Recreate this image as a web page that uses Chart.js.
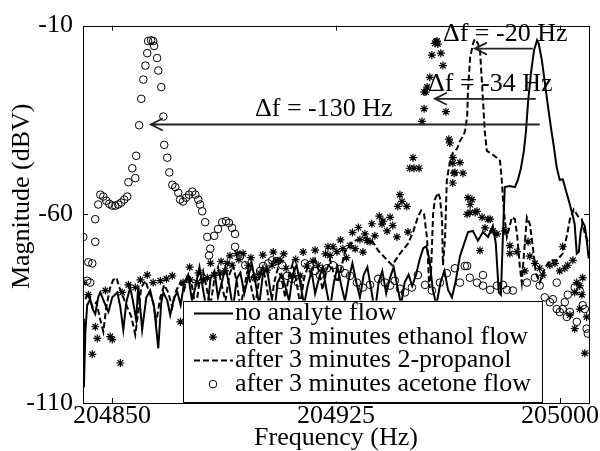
<!DOCTYPE html>
<html>
<head>
<meta charset="utf-8">
<script src="https://cdn.jsdelivr.net/npm/chart.js@4.4.0/dist/chart.umd.min.js"></script>
<style>
  html, body { margin: 0; padding: 0; background: #fff; }
  canvas { display: block; }
</style>
</head>
<body>
<canvas id="chart" width="600" height="451"></canvas>
<script>
// Ticks of the axes
const freqTicks = [204850, 204925, 205000];
const magTicks = [-110, -60, -10];

const seriesNames = ['no analyte flow', 'after 3 minutes ethanol flow',
                     'after 3 minutes 2-propanol', 'after 3 minutes acetone flow'];

// [frequency (Hz), magnitude (dBV)]
const noFlow = [
  [204840.4,-87.7],[204840.6,-105.9],[204841.1,-91.1],[204841.7,-84.1],[204842.7,-82.5],[204843.7,-85.4],
  [204844.4,-86.4],[204845.4,-82.0],[204846.1,-80.7],[204847.4,-83.3],[204848.8,-85.9],[204850.1,-82.0],
  [204851.8,-80.7],[204852.8,-84.6],[204853.8,-90.6],[204854.8,-83.3],[204856.1,-79.4],[204857.1,-83.3],
  [204858.1,-88.0],[204858.8,-78.9],[204860.1,-90.6],[204861.5,-82.0],[204862.8,-80.2],[204864.1,-84.6],
  [204865.5,-95.5],[204866.5,-83.3],[204867.2,-80.7],[204868.5,-82.8],[204869.5,-86.7],[204870.8,-82.0],
  [204871.9,-80.7],[204873.0,-84],[204874.2,-78],[204875.5,-76],[204876.8,-83],[204878.0,-79],
  [204879.3,-74],[204880.5,-80],[204881.8,-86],[204883.0,-77],[204884.3,-75],[204885.5,-82],
  [204886.8,-78],[204888.0,-74],[204889.3,-79],[204890.5,-85],[204891.8,-77],[204893.0,-75.5],
  [204894.3,-81],[204895.5,-77],[204896.8,-73],[204898.0,-78],[204899.3,-84],[204900.5,-76],
  [204901.8,-74],[204903.0,-80],[204904.3,-86],[204905.5,-78],[204906.8,-76],[204908.0,-79],
  [204909.3,-83],[204910.5,-76],[204911.8,-73.5],[204913.0,-78],[204914.3,-84],[204915.5,-79],
  [204916.8,-75],[204918.0,-81],[204919.3,-77],[204920.5,-74],[204921.8,-80],[204923.0,-85],
  [204924.3,-78],[204925.5,-74],[204926.8,-79],[204928.0,-83],[204929.3,-77],[204930.5,-73],
  [204931.8,-78],[204933.0,-82],[204934.3,-76],[204935.5,-74],[204936.8,-80],[204938.0,-86],
  [204939.3,-78],[204940.5,-75],[204941.8,-81],[204943.0,-77],[204944.3,-74],[204945.5,-79],
  [204946.8,-84],[204948.0,-78],[204949.3,-76],[204950.5,-79],[204951.8,-76],[204953.0,-72],
  [204954.2,-69],[204955.2,-68.5],[204956.3,-72],[204957.4,-80],[204958.6,-84],[204960.0,-78],
  [204961.3,-75],[204962.5,-80],[204963.8,-82],[204965.0,-78],[204966.5,-71.1],[204969.2,-64.7],
  [204970.8,-64.4],[204972.5,-67.0],[204974.2,-64.7],[204975.9,-66.0],[204977.5,-63.1],[204978.5,-67.8],
  [204979.5,-80.7],[204980.2,-81.3],[204980.9,-65.2],[204981.5,-52.8],[204983.2,-52.5],[204984.9,-52.8],
  [204985.9,-50.9],[204986.9,-47.8],[204987.9,-43.2],[204988.6,-38.0],[204989.3,-30.2],[204990.3,-22.4],
  [204991.3,-16.5],[204992.3,-13.9],[204992.9,-14.9],[204993.9,-19.1],[204994.9,-25.0],[204995.9,-31.0],
  [204996.9,-36.7],[204997.9,-41.9],[204998.9,-47.6],[204999.9,-50.9],[205000.9,-50.7],[205001.9,-53.5],
  [205003.3,-57.4],[205004.3,-60.5],[205004.9,-62.6],[205005.6,-70.4],[205006.3,-69.9],[205006.9,-64.7],
  [205007.6,-62.1],[205008.3,-63.1],[205008.9,-66.5],[205009.6,-71.7]
];

const ethanol = [
  [204840.4,-78.1],[204842.1,-81.3],[204843.4,-97.1],[204844.4,-89.8],[204845.1,-92.9],[204847.8,-80.2],
  [204849.4,-92.4],[204850.1,-93.2],[204852.8,-99.4],[204853.4,-80.7],[204855.5,-78.7],[204857.8,-79.4],
  [204859.5,-77.4],[204861.8,-76.1],[204863.8,-78.1],[204866.2,-77.6],[204868.2,-77.1],[204870.2,-76.3],
  [204872.9,-88.5],[204873.8,-78.1],[204876.2,-77.4],[204878.5,-78.1],[204880.5,-77.4],[204881.9,-76.8],
  [204884.2,-76.1],[204886.2,-75.6],[204887.9,-75.0],[204888.6,-73.0],[204890.2,-73.5],[204891.9,-70.4],
  [204893.9,-70.4],[204895.6,-73.5],[204897.9,-76.8],[204899.6,-75.6],[204901.9,-74.8],[204903.6,-73.5],
  [204904.9,-72.4],[204906.3,-72.2],[204908.3,-74.3],[204910.6,-76.3],[204913.0,-76.3],[204915.3,-73.7],
  [204917.3,-72.4],[204919.0,-73.5],[204920.7,-74.8],[204922.3,-68.6],[204923.0,-70.9],[204924.0,-68.6],
  [204925.3,-69.9],[204927.3,-69.1],[204929.7,-68.3],[204931.4,-69.1],[204933.0,-66.7],[204934.7,-65.2],
  [204935.4,-67.0],[204936.4,-67.3],[204938.0,-65.7],[204940.4,-62.6],[204940.7,-61.8],[204942.1,-64.4],
  [204943.1,-60.8],[204945.4,-66.0],[204945.7,-57.9],[204946.4,-54.8],[204947.1,-56.6],[204948.7,-57.9],
  [204949.1,-64.7],[204949.7,-47.8],[204950.8,-45.0],[204951.1,-47.8],[204952.8,-47.8],[204953.8,-35.4],
  [204954.5,-32.0],[204954.5,-27.6],[204955.1,-27.6],[204955.5,-26.3],[204956.4,-23.7],[204957.1,-17.8],
  [204958.1,-14.7],[204958.5,-14.3],[204958.8,-14.1],[204959.1,-14.9],[204960.1,-17.3],[204960.8,-20.6],
  [204961.8,-32.8],[204962.8,-40.1],[204963.1,-41.1],[204964.1,-45.0],[204964.1,-46.5],[204964.5,-49.1],
  [204964.8,-48.9],[204966.5,-46.3],[204967.5,-49.1],[204964.1,-51.7],[204969.2,-55.6],[204970.5,-56.1],
  [204969.9,-57.4],[204968.9,-60.0],[204969.9,-59.5],[204971.6,-59.5],[204972.2,-59.2],[204973.9,-60.8],
  [204973.2,-69.6],[204974.9,-63.6],[204975.9,-61.3],[204976.6,-61.3],[204977.6,-64.4],[204978.9,-65.2],
  [204981.5,-64.4],[204983.2,-68.3],[204983.2,-70.4],[204985.6,-69.9],[204988.2,-75.0],[204989.3,-67.3],
  [204989.9,-71.1],[204991.6,-73.0],[204993.2,-74.3],[204994.2,-76.1],[204996.6,-73.5],[204998.3,-73.0],
  [204999.9,-75.0],[205000.9,-68.6],[205001.6,-74.3],[205002.6,-73.5],[205004.3,-72.2],[205005.6,-78.1],
  [205006.6,-78.9],[205007.3,-81.3],[205004.9,-80.7],[205006.6,-85.1],[205003.3,-86.7],[205004.9,-90.3],
  [205008.3,-96.8],[205008.9,-87.2],[205007.6,-76.8],
  [204876.0,-74.0],[204879.0,-75.5],[204883.0,-73.0],[204886.5,-72.5],[204889.5,-71.0],[204892.5,-72.0],
  [204896.5,-71.5],[204900.5,-70.8],[204904.0,-70.0],[204907.5,-70.5],[204911.5,-72.0],[204914.0,-70.0],
  [204918.0,-69.5],[204921.5,-70.5],[204926.5,-66.8],[204930.5,-64.8],[204932.5,-63.5],[204937.0,-62.5],
  [204939.5,-60.5],[204928.5,-71.5],[204934.0,-70.0],[204944.0,-63.0]
];

const propanol = [
  [204841.1,-82.5],[204842.1,-80.7],[204843.4,-84.6],[204844.8,-83.3],[204846.1,-88.0],[204847.1,-91.1],
  [204848.1,-84.6],[204849.4,-79.4],[204850.4,-77.4],[204851.5,-76.8],[204852.5,-79.4],[204853.8,-82.0],
  [204855.1,-84.6],[204856.5,-87.2],[204857.8,-91.9],[204858.8,-85.9],[204859.8,-79.4],[204861.2,-77.6],
  [204862.5,-80.7],[204863.8,-83.3],[204864.8,-88.5],[204866.2,-82.0],[204867.5,-78.7],[204868.8,-80.7],
  [204870.2,-84.6],[204871.5,-80.2],[204872.9,-78.1],[204874.2,-80],[204875.5,-76],[204876.8,-79],
  [204878.0,-85],[204879.3,-78],[204880.5,-75],[204881.8,-80],[204883.0,-84],[204884.3,-77],
  [204885.5,-74],[204886.8,-79],[204888.0,-83],[204889.3,-76],[204890.5,-73.5],[204891.8,-78],
  [204893.0,-85],[204894.3,-79],[204895.5,-75],[204896.8,-80],[204898.0,-84],[204899.3,-77],
  [204900.5,-74],[204901.8,-79],[204903.0,-86],[204904.3,-78],[204905.5,-74.5],[204906.8,-77],
  [204908.0,-82],[204909.3,-76],[204910.5,-73],[204911.8,-78],[204913.0,-84],[204914.3,-77],
  [204915.5,-74],[204916.8,-76],[204918.0,-72],[204919.3,-75],[204920.5,-80],[204921.8,-75],
  [204923.0,-72],[204924.3,-76],[204925.5,-78],[204926.8,-74],[204928.0,-70],[204930.4,-67.3],
  [204933.1,-66.5],[204935.1,-66.2],[204937.1,-67.0],[204939.1,-69.6],[204942.2,-72.2],[204943.8,-73.5],
  [204946.4,-70.4],[204949.1,-67.8],[204950.8,-64.7],[204952.5,-60.5],[204953.5,-59.0],[204954.5,-60.0],
  [204955.5,-66.5],[204956.2,-79.4],[204956.8,-75.6],[204957.5,-60.0],[204958.1,-56.1],[204959.1,-54.3],
  [204959.8,-55.6],[204960.5,-61.3],[204960.8,-73.5],[204961.5,-66.5],[204962.1,-50.9],[204963.1,-46.3],
  [204964.1,-43.7],[204965.5,-42.6],[204966.5,-40.6],[204967.5,-39.3],[204968.2,-38.0],[204968.9,-34.1],
  [204969.2,-27.1],[204969.9,-18.5],[204970.9,-14.7],[204971.5,-13.6],[204972.5,-14.7],[204973.2,-16.5],
  [204973.8,-24.3],[204974.3,-31.0],[204974.8,-38.0],[204975.5,-43.2],[204977.2,-44.0],[204978.8,-45.0],
  [204979.9,-45.8],[204980.5,-50.9],[204980.9,-56.1],[204981.5,-61.3],[204982.2,-66.0],[204982.9,-63.9],
  [204983.9,-60.8],[204984.9,-61.3],[204985.6,-65.2],[204986.6,-74.3],[204987.2,-78.1],[204988.2,-67.8],
  [204988.9,-60.8],[204989.9,-62.6],[204990.9,-68.6],[204991.9,-75.6],[204993.2,-78.1],[204994.9,-74.3],
  [204996.6,-72.2],[204998.9,-72.2],[205000.9,-70.4],[205002.3,-65.7],[205003.3,-61.3],[205004.6,-58.7],
  [205006.0,-60.5],[205007.3,-61.3],[205008.3,-65.2],[205009.6,-67.8]
];

const acetone = [
  [204840.4,-66.0],[204841.7,-77.6],[204842.7,-78.1],[204842.1,-72.7],[204843.4,-73.0],[204844.4,-67.3],
  [204844.4,-61.3],[204845.4,-57.4],[204846.1,-54.8],[204847.1,-55.3],[204848.1,-56.4],[204849.1,-57.2],
  [204850.1,-57.7],[204851.1,-57.7],[204852.1,-57.4],[204853.1,-56.9],[204854.1,-56.1],[204855.1,-55.3],
  [204855.5,-51.5],[204856.8,-47.8],[204857.8,-50.4],[204858.1,-44.5],[204859.1,-36.4],[204859.8,-29.4],
  [204860.5,-24.3],[204861.2,-20.6],[204861.8,-17.3],[204862.1,-14.1],[204863.1,-13.9],[204863.8,-14.1],
  [204864.1,-15.4],[204865.1,-18.6],[204865.5,-21.9],[204866.5,-26.3],[204867.2,-34.1],[204867.5,-41.6],
  [204868.5,-45.0],[204869.2,-48.9],[204870.2,-52.2],[204871.2,-52.8],[204872.2,-54.3],[204872.8,-56.1],
  [204873.8,-56.6],[204874.8,-55.6],[204875.8,-54.8],[204876.9,-54.0],[204877.9,-54.8],[204878.9,-56.1],
  [204879.5,-57.4],[204880.2,-59.2],[204881.2,-62.1],[204881.9,-66.0],[204882.9,-69.1],[204882.5,-70.9],
  [204884.2,-65.7],[204885.5,-63.9],[204886.9,-62.1],[204888.2,-61.8],[204889.2,-62.3],[204890.2,-63.6],
  [204891.2,-65.2],[204891.2,-68.6],[204892.9,-71.1],[204894.6,-73.5],[204896.3,-75.6],[204897.9,-76.8],
  [204899.6,-75.0],[204900.6,-73.7],[204902.3,-73.0],[204903.6,-72.2],[204905.3,-72.4],[204907.0,-73.5],
  [204908.6,-76.3],[204906.3,-78.7],[204910.3,-77.1],[204912.3,-78.1],[204914.6,-73.0],[204916.3,-73.5],
  [204918.0,-75.0],[204919.6,-76.1],[204922.0,-74.3],[204924.0,-73.5],[204926.3,-74.5],[204928.0,-75.6],
  [204929.7,-76.3],[204932.0,-78.1],[204934.0,-79.4],[204936.4,-78.7],[204939.1,-77.1],[204941.4,-78.1],
  [204943.1,-78.9],[204944.7,-77.6],[204946.4,-79.7],[204948.1,-80.7],[204950.4,-79.4],[204952.4,-76.1],
  [204954.8,-78.7],[204957.1,-80.2],[204959.8,-78.1],[204962.1,-75.6],[204964.8,-74.3],[204966.5,-78.1],
  [204968.1,-73.7],[204968.9,-73.7],[204969.8,-76.8],[204972.2,-78.1],[204974.2,-76.1],[204974.2,-78.9],
  [204976.6,-80.0],[204978.9,-78.9],[204980.9,-78.7],[204982.2,-80.0],[204984.2,-80.2],[204988.9,-78.1],
  [204991.6,-76.8],[204993.2,-78.9],[204994.9,-82.0],[204996.6,-83.3],[204997.6,-82.5],[204998.9,-78.1],
  [204998.9,-85.1],[204999.9,-85.9],[205000.9,-85.1],[205001.6,-83.3],[205002.3,-87.2],[205002.6,-81.3],
  [205003.3,-85.9],[205004.9,-79.4],[205005.6,-88.5],[205006.6,-80.2],[205007.6,-84.1],[205008.3,-85.1],
  [205008.9,-90.3],[205009.3,-91.6]
];

// Frequency shift arrows (Hz, dBV)
const shiftFromHz = [204993.2, 204991.9, 204990.9];
const shiftToHz = [204863.0, 204958.1, 204971.5];
const shiftDb = [-36.2, -29.4, -16.1];
const shiftLabels = ['\u0394f = -130 Hz', '\u0394f = -34 Hz', '\u0394f = -20 Hz'];
const shiftLabelHz = [204897.9, 204955.8, 204960.8];

const serif = '"Liberation Serif", "Times New Roman", serif';

// Frame, inward ticks, arrows and legend drawn on top
const overlayPlugin = {
  id: 'overlay',
  afterDraw(chart) {
    const {ctx, chartArea: a, scales: {x, y}} = chart;
    ctx.save();
    ctx.strokeStyle = '#000';
    ctx.fillStyle = '#000';
    ctx.lineWidth = 1;
    ctx.setLineDash([]);
    ctx.strokeRect(Math.round(a.left) + 0.5, Math.round(a.top) + 0.5,
                   Math.round(a.right - a.left), Math.round(a.bottom - a.top));
    ctx.beginPath();
    freqTicks.forEach(v => {
      const px = Math.round(x.getPixelForValue(v)) + 0.5;
      ctx.moveTo(px, a.bottom); ctx.lineTo(px, a.bottom - 5);
      ctx.moveTo(px, a.top); ctx.lineTo(px, a.top + 5);
    });
    magTicks.forEach(v => {
      const py = Math.round(y.getPixelForValue(v)) + 0.5;
      ctx.moveTo(a.left, py); ctx.lineTo(a.left + 5, py);
      ctx.moveTo(a.right, py); ctx.lineTo(a.right - 5, py);
    });
    ctx.stroke();

    // y title
    ctx.save();
    ctx.font = '26px ' + serif;
    ctx.textAlign = 'center';
    ctx.textBaseline = 'middle';
    ctx.translate(22, (a.top + a.bottom) / 2 - 18);
    ctx.rotate(-Math.PI / 2);
    ctx.fillText('Magnitude (dBV)', 0, 0);
    ctx.restore();

    // arrows
    ctx.strokeStyle = '#222';
    ctx.lineWidth = 1.8;
    ctx.font = '26px ' + serif;
    ctx.textAlign = 'left';
    ctx.textBaseline = 'alphabetic';
    for (let i = 0; i < shiftDb.length; i++) {
      const py = y.getPixelForValue(shiftDb[i]);
      const x0 = x.getPixelForValue(shiftFromHz[i]);
      const x1 = x.getPixelForValue(shiftToHz[i]);
      ctx.beginPath();
      ctx.moveTo(x0, py); ctx.lineTo(x1, py);
      ctx.moveTo(x1 + 12, py - 6); ctx.lineTo(x1, py); ctx.lineTo(x1 + 12, py + 6);
      ctx.stroke();
      ctx.fillText(shiftLabels[i], x.getPixelForValue(shiftLabelHz[i]), py - 8);
    }

    // legend
    const lx = a.left + 100, ly = a.top + 275, lw = 359, lh = 101;
    ctx.fillStyle = '#fff';
    ctx.fillRect(lx, ly, lw, lh);
    ctx.strokeStyle = '#000';
    ctx.lineWidth = 1;
    ctx.strokeRect(Math.round(lx) + 0.5, Math.round(ly) + 0.5, lw, lh);
    ctx.fillStyle = '#000';
    ctx.textBaseline = 'middle';
    chart.data.datasets.forEach((ds, i) => {
      const cy = ly + 13 + i * 23.5;
      const sx = lx + 30;
      ctx.lineWidth = ds.borderWidth;
      ctx.setLineDash(ds.borderDash || []);
      if (ds.showLine) {
        ctx.beginPath();
        ctx.moveTo(lx + 11, cy); ctx.lineTo(lx + 50, cy);
        ctx.stroke();
      } else if (ds.pointStyle === 'star') {
        const r = ds.pointRadius;
        ctx.lineWidth = ds.pointBorderWidth;
        ctx.beginPath();
        for (let k = 0; k < 4; k++) {
          const t = k * Math.PI / 4;
          ctx.moveTo(sx - r * Math.cos(t), cy - r * Math.sin(t));
          ctx.lineTo(sx + r * Math.cos(t), cy + r * Math.sin(t));
        }
        ctx.stroke();
      } else {
        ctx.lineWidth = ds.pointBorderWidth;
        ctx.beginPath();
        ctx.arc(sx, cy, ds.pointRadius, 0, Math.PI * 2);
        ctx.stroke();
      }
      ctx.setLineDash([]);
      ctx.fillText(ds.label, lx + 52, cy);
    });
    ctx.restore();
  }
};

new Chart(document.getElementById('chart'), {
  type: 'scatter',
  data: {
    datasets: [
      { label: seriesNames[0], data: noFlow, showLine: true, borderColor: '#000', borderWidth: 2,
        pointRadius: 0, tension: 0 },
      { label: seriesNames[1], data: ethanol, showLine: false, pointStyle: 'star', pointRadius: 4,
        pointBorderWidth: 1.2, borderColor: '#000', backgroundColor: '#000', borderWidth: 1 },
      { label: seriesNames[2], data: propanol, showLine: true, borderColor: '#000', borderWidth: 2,
        borderDash: [6, 3], pointRadius: 0, tension: 0 },
      { label: seriesNames[3], data: acetone, showLine: false, pointStyle: 'circle', pointRadius: 3.8,
        pointBorderWidth: 1, borderColor: '#000', backgroundColor: 'rgba(0,0,0,0)', borderWidth: 1 }
    ]
  },
  options: {
    responsive: false,
    animation: false,
    devicePixelRatio: 1,
    events: [],
    layout: { padding: { top: 17, right: 11, left: 0, bottom: 0 } },
    plugins: { legend: { display: false }, tooltip: { enabled: false } },
    scales: {
      x: {
        type: 'linear', min: 204840.3, max: 205009.7,
        afterBuildTicks: s => { s.ticks = freqTicks.map(v => ({ value: v })); },
        afterFit: s => { s.height = 48; },
        grid: { display: false, drawTicks: false }, border: { display: false },
        ticks: { color: '#000', font: { family: serif, size: 26, lineHeight: 1 }, padding: 0, maxRotation: 0,
                 autoSkip: false, callback: v => String(v) },
        title: { display: true, text: 'Frequency (Hz)', color: '#000',
                 font: { family: serif, size: 26, lineHeight: 1 }, padding: { top: 0, bottom: 0 } }
      },
      y: {
        type: 'linear', min: -110, max: -10,
        afterBuildTicks: s => { s.ticks = magTicks.map(v => ({ value: v })); },
        afterFit: s => { s.width = 83; },
        grid: { display: false, drawTicks: false }, border: { display: false },
        ticks: { color: '#000', font: { family: serif, size: 26 }, padding: 10, autoSkip: false,
                 callback: v => String(v) }
      }
    }
  },
  plugins: [overlayPlugin]
});
</script>
</body>
</html>
